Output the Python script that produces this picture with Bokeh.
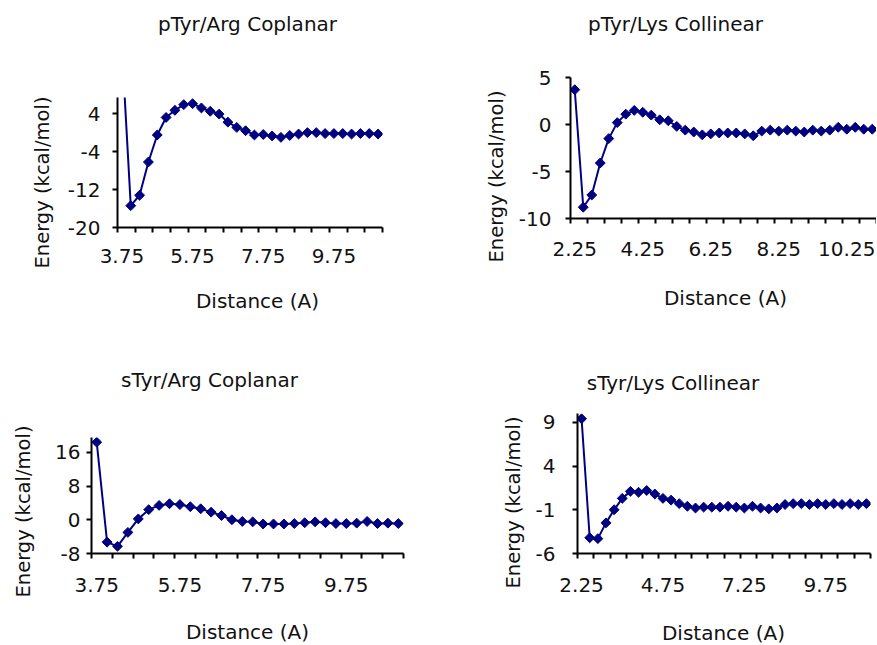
from math import pi
from bokeh.plotting import figure
from bokeh.layouts import column, row
from bokeh.models import Range1d, FixedTicker
from bokeh.core.properties import value
from bokeh.embed import file_html
from bokeh.resources import INLINE

# ---------------- data ----------------
dist_arg = [3.75, 4.00, 4.25, 4.50, 4.75, 5.00, 5.25, 5.50, 5.75, 6.00,
            6.25, 6.50, 6.75, 7.00, 7.25, 7.50, 7.75, 8.00, 8.25, 8.50,
            8.75, 9.00, 9.25, 9.50, 9.75, 10.00, 10.25, 10.50, 10.75, 11.00]
dist_lys = [2.25, 2.50, 2.75, 3.00, 3.25, 3.50, 3.75, 4.00, 4.25, 4.50,
            4.75, 5.00, 5.25, 5.50, 5.75, 6.00, 6.25, 6.50, 6.75, 7.00,
            7.25, 7.50, 7.75, 8.00, 8.25, 8.50, 8.75, 9.00, 9.25, 9.50,
            9.75, 10.00, 10.25, 10.50, 10.75, 11.00]

ptyr_arg = [18.0, -15.4, -13.2, -6.2, -0.5, 3.2, 4.7, 5.9, 6.1, 5.2,
            4.5, 3.9, 2.2, 1.1, 0.4, -0.5, -0.4, -0.7, -1.0, -0.6,
            -0.3, 0.0, 0.0, -0.2, -0.2, -0.2, -0.3, -0.2, -0.2, -0.3]
ptyr_lys = [3.7, -8.8, -7.5, -4.1, -1.5, 0.2, 1.1, 1.5, 1.3, 1.0,
            0.5, 0.4, -0.2, -0.6, -0.8, -1.1, -1.0, -0.9, -0.9, -0.9,
            -1.0, -1.2, -0.7, -0.6, -0.7, -0.6, -0.7, -0.8, -0.6, -0.7,
            -0.6, -0.3, -0.5, -0.3, -0.5, -0.5]
styr_arg = [18.4, -5.3, -6.3, -3.0, 0.2, 2.4, 3.4, 3.8, 3.6, 3.1,
            2.6, 1.8, 1.0, 0.0, -0.4, -0.5, -1.0, -1.0, -1.0, -0.9,
            -0.7, -0.5, -0.7, -0.9, -0.9, -0.8, -0.4, -0.9, -0.8, -0.9]
styr_lys = [9.4, -4.2, -4.3, -2.5, -1.0, 0.3, 1.1, 1.0, 1.2, 0.8,
            0.3, 0.1, -0.3, -0.6, -0.8, -0.7, -0.7, -0.7, -0.6, -0.7,
            -0.8, -0.6, -0.8, -0.9, -0.8, -0.4, -0.3, -0.3, -0.4, -0.3,
            -0.4, -0.3, -0.4, -0.3, -0.4, -0.3]

titles = ["pTyr/Arg Coplanar", "pTyr/Lys Collinear",
          "sTyr/Arg Coplanar", "sTyr/Lys Collinear"]
x_labels_arg = [3.75, 5.75, 7.75, 9.75]
x_labels_lys1 = [2.25, 4.25, 6.25, 8.25, 10.25]
x_labels_lys2 = [2.25, 4.75, 7.25, 9.75]
y_ticks_1 = [-20, -12, -4, 4]
y_ticks_2 = [-10, -5, 0, 5]
y_ticks_3 = [-8, 0, 8, 16]
y_ticks_4 = [-6, -1, 4, 9]
x_title = "Distance (A)"
y_title = "Energy (kcal/mol)"

FONT = "DejaVu Sans"
FS = "20px"
FS_Y = "19.5px"
NAVY = "#000080"
TXT = "#111111"


def base_fig(w, h, **kw):
    f = figure(width=w, height=h, output_backend="svg", toolbar_location=None,
               title=None, frame_align=False, **kw)
    f.outline_line_color = None
    f.background_fill_color = "white"
    f.border_fill_color = "white"
    return f


def text_fig(w, h, x, y, s, angle=0.0, size=FS):
    f = base_fig(w, h, x_range=Range1d(0, w), y_range=Range1d(0, h),
                 x_axis_location=None, y_axis_location=None,
                 min_border_left=0, min_border_right=0,
                 min_border_top=0, min_border_bottom=0)
    f.grid.visible = False
    f.text(x=[x], y=[y], text=[s], angle=angle, text_font=value(FONT),
           text_font_size=value(size), text_color=TXT,
           text_align="center", text_baseline="middle")
    return f


def main_fig(w, h, bl, br, bt, bb, xs, ys, ymin, ymax, xlabs, yticks,
             ystand, xstand):
    step = xs[1] - xs[0]
    x0 = xs[0] - step / 2
    x1 = xs[-1] + step / 2
    p = base_fig(w, h, x_range=Range1d(x0, x1), y_range=Range1d(ymin, ymax),
                 min_border_left=bl, min_border_right=br,
                 min_border_top=bt, min_border_bottom=bb)
    p.grid.visible = False

    bounds = []
    b = x0
    while b <= x1 + 1e-9:
        bounds.append(round(b, 4))
        b += 2 * step
    p.xaxis.ticker = FixedTicker(ticks=xlabs, minor_ticks=bounds)
    p.xaxis.major_label_overrides = {v: f"{v:.2f}" for v in xlabs}
    p.yaxis.ticker = FixedTicker(ticks=yticks, minor_ticks=[])
    p.yaxis.major_label_overrides = {v: str(v) for v in yticks}

    for ax in (p.xaxis, p.yaxis):
        ax.axis_line_width = 2
        ax.axis_line_color = "black"
        ax.major_tick_line_width = 2
        ax.minor_tick_line_width = 2
        ax.major_tick_line_color = "black"
        ax.minor_tick_line_color = "black"
        ax.major_label_text_font = FONT
        ax.major_label_text_font_size = FS
        ax.major_label_text_color = TXT
        ax.major_tick_in = 0
        ax.minor_tick_in = 0
    p.xaxis.major_tick_out = 0
    p.xaxis.minor_tick_out = 5
    p.xaxis.major_label_standoff = xstand
    p.yaxis.major_tick_out = 5
    p.yaxis.minor_tick_out = 0
    p.yaxis.major_label_standoff = ystand

    p.line(xs, ys, line_color=NAVY, line_width=2)
    p.scatter(xs, ys, marker="square", size=7, angle=pi / 4,
              fill_color=NAVY, line_color=NAVY)
    return p


def panel(w, ht, hm, hb, wy, title, tpos, ypos, xpos, main):
    return column(
        text_fig(w, ht, tpos[0], tpos[1], title),
        row(text_fig(wy, hm, ypos[0], ypos[1], y_title, angle=pi / 2, size=FS_Y), main),
        text_fig(w, hb, xpos[0], xpos[1], x_title),
    )


# panel 1 : x 0-440, y 0-340
m1 = main_fig(382, 225, 59, 58, 42, 53, dist_arg, ptyr_arg, -20, 7.4,
              x_labels_arg, y_ticks_1, 12, 16)
P1 = panel(440, 55, 225, 60, 58, titles[0], (247, 32), (42, 98), (257, 40), m1)

# panel 2 : x 440-876, y 0-340
m2 = main_fig(361, 225, 54, 0, 22, 62, dist_lys, ptyr_lys, -10, 5,
              x_labels_lys1, y_ticks_2, 14, 18)
P2 = panel(436, 55, 225, 60, 75, titles[1], (235, 32), (56, 104), (285, 43), m2)

# panel 3 : x 0-440, y 340-644
m3 = main_fig(390, 210, 41, 37, 37, 57, dist_arg, styr_arg, -8, 19.5,
              x_labels_arg, y_ticks_3, 6, 19)
P3 = panel(440, 60, 210, 34, 50, titles[2], (209, 21), (23, 99), (247, 13), m3)

# panel 4 : x 440-876, y 340-644
m4 = main_fig(346, 210, 47, 6, 13, 57, dist_lys, styr_lys, -6, 10,
              x_labels_lys2, y_ticks_4, 17, 19)
P4 = panel(436, 60, 210, 34, 90, titles[3], (232.5, 18), (73, 108), (283, 12), m4)

layout = column(row(P1, P2), row(P3, P4))
open("out.html", "w").write(file_html(layout, INLINE))
